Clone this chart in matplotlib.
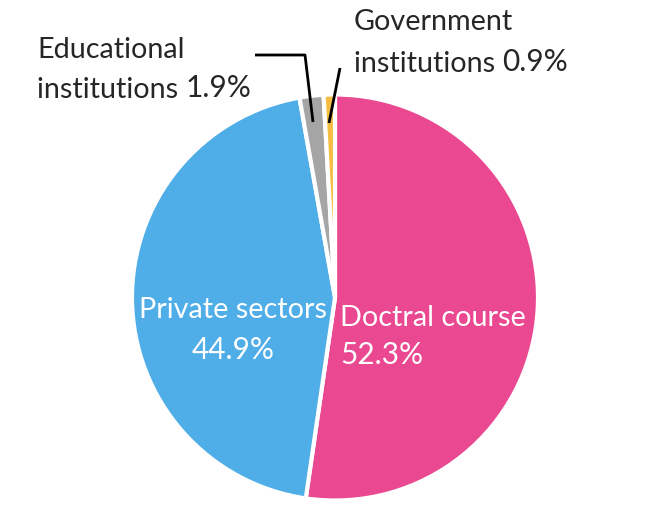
import matplotlib
matplotlib.use("Agg")
import matplotlib.pyplot as plt

categories = ["Doctral course", "Private sectors", "Educational\ninstitutions", "Government\ninstitutions"]
shares = [52.3, 44.9, 1.9, 0.9]
colors = ["#EA4891", "#4FADE8", "#A5A5A5", "#F5BD42"]

plt.rcParams['font.family'] = ['Lato', 'DejaVu Sans']

W, H = 646, 524
fig = plt.figure(figsize=(W / 100, H / 100), dpi=100)
ax = fig.add_axes([0, 0, 1, 1])

cx, cy, r = 335, H - 297.5, 203
ax.pie(shares, colors=colors, startangle=90, counterclock=False,
       center=(cx, cy), radius=r, frame=True,
       wedgeprops=dict(edgecolor="white", linewidth=3))
ax.set_xlim(0, W)
ax.set_ylim(0, H)
ax.set_aspect("equal")
ax.axis("off")

fs, fp = 20.7, 21.5
# inner labels
ax.text(340, H - 318, categories[0], color="white", fontsize=fs, ha="left", va="center")
ax.text(340, H - 355, f"{shares[0]}%", color="white", fontsize=fp, ha="left", va="center")
ax.text(233, H - 310, categories[1], color="white", fontsize=fs, ha="center", va="center")
ax.text(233, H - 350, f"{shares[1]}%", color="white", fontsize=fp, ha="center", va="center")

tc = "#262626"
ed = categories[2].split("\n")
ax.text(37, H - 50, ed[0], color=tc, fontsize=fs, ha="left", va="center")
t = ax.text(37, H - 90, ed[1] + " ", color=tc, fontsize=fs, ha="left", va="center")
fig.canvas.draw()
bb = t.get_window_extent()
ax.text(bb.x1, H - 88, f"{shares[2]}%", color=tc, fontsize=fp, ha="left", va="center")

gv = categories[3].split("\n")
ax.text(354, H - 22, gv[0], color=tc, fontsize=fs, ha="left", va="center")
t2 = ax.text(354, H - 64, gv[1] + " ", color=tc, fontsize=fs, ha="left", va="center")
bb2 = t2.get_window_extent()
ax.text(bb2.x1, H - 62, f"{shares[3]}%", color=tc, fontsize=fp, ha="left", va="center")

# leader lines
ax.plot([255, 305, 313], [H - 55, H - 55, H - 122], color="black", lw=2, solid_capstyle="butt")
ax.plot([340, 329], [H - 68, H - 123], color="black", lw=2, solid_capstyle="butt")

fig.savefig("out.png", dpi=100)
